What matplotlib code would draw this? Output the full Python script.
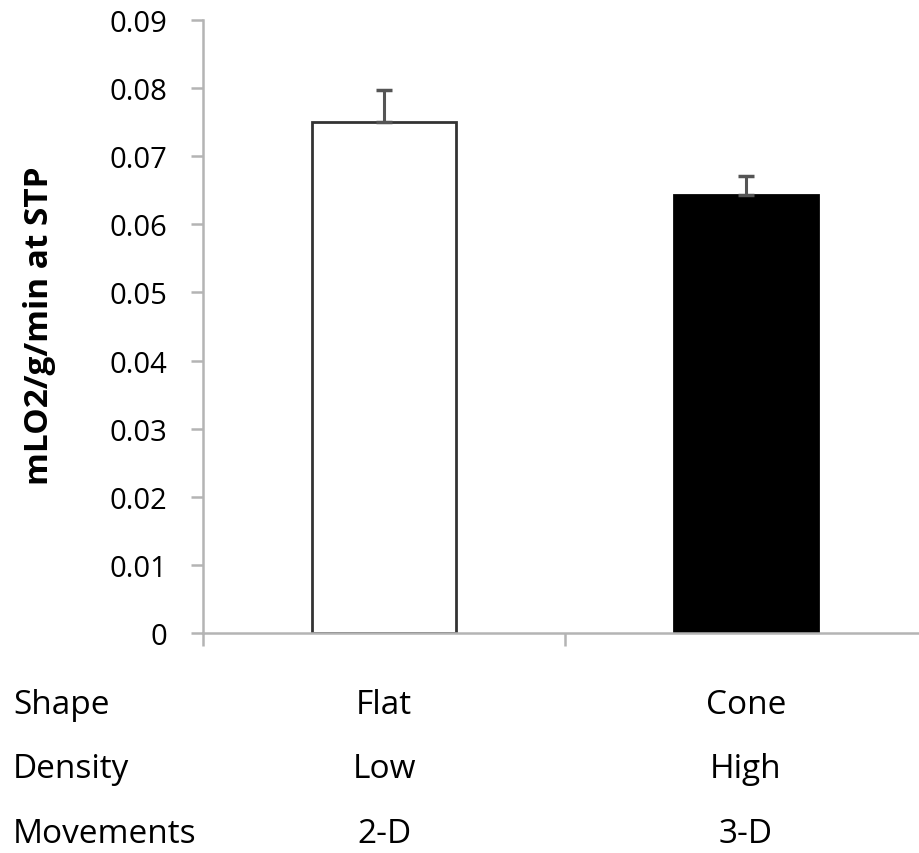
import matplotlib
matplotlib.use("Agg")
import matplotlib.pyplot as plt
from matplotlib.ticker import FuncFormatter

plt.rcParams['font.family'] = ['Open Sans', 'DejaVu Sans']

# data
shapes = ["Flat", "Cone"]
densities = ["Low", "High"]
movements = ["2-D", "3-D"]
row_names = ["Shape", "Density", "Movements"]
rates = [0.0750, 0.0643]
errors = [0.0047, 0.0028]
bar_colors = ["white", "black"]

axis_grey = "#b4b4b4"

fig = plt.figure(figsize=(9.2, 8.54), dpi=100)
# the plot area runs a little past the right edge, like the original
ax = fig.add_axes([203 / 920, 220 / 854, 724 / 920, 613 / 854])

xpos = [0.5, 1.5]
ax.bar(xpos, rates, width=0.4, color=bar_colors, edgecolor=["#333333", "black"],
       linewidth=2, zorder=2)
ax.errorbar(xpos, rates, yerr=[[0, 0], errors], fmt="none", ecolor="#555555",
            elinewidth=2.2, capsize=6, capthick=2.5, zorder=3)

ax.set_xlim(0, 2)
ax.set_ylim(0, 0.09)
ax.set_yticks([i / 100 for i in range(10)])
ax.yaxis.set_major_formatter(FuncFormatter(lambda v, p: "0" if v == 0 else f"{v:.2f}"))
ax.set_xticks([0, 1, 2])
ax.set_xticklabels([])

for side in ["top", "right"]:
    ax.spines[side].set_visible(False)
for side in ["left", "bottom"]:
    ax.spines[side].set_color(axis_grey)
    ax.spines[side].set_linewidth(1.8)
ax.tick_params(axis="both", direction="out", length=9, width=1.8, color=axis_grey)
ax.tick_params(axis="y", labelsize=21, pad=17, labelcolor="black")

fig.text(40 / 920, 1 - 326 / 854, "mLO2/g/min at STP", rotation=90,
         fontsize=24, fontweight="bold", ha="center", va="center")

# category table under the axis
rows = [shapes, densities, movements]
row_y = [705, 770, 835]
for name, vals, y in zip(row_names, rows, row_y):
    fy = 1 - y / 854
    fig.text(13 / 920, fy, name, fontsize=24, ha="left", va="center")
    for xp, v in zip(xpos, vals):
        fx = fig.transFigure.inverted().transform(ax.transData.transform((xp, 0)))[0]
        fig.text(fx, fy, v, fontsize=24, ha="center", va="center")

fig.savefig("out.png", dpi=100)
